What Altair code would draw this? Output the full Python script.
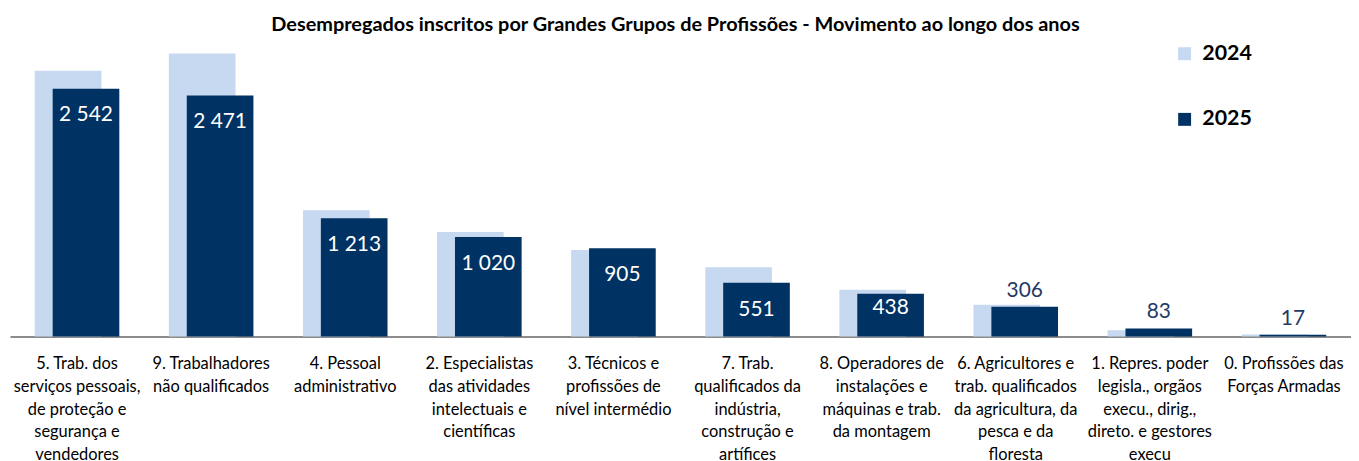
import altair as alt
import pandas as pd

FONT = "Lato, sans-serif"

categories = [
    "5. Trab. dos|serviços pessoais,|de proteção e|segurança e|vendedores",
    "9. Trabalhadores|não qualificados",
    "4. Pessoal|administrativo",
    "2. Especialistas|das atividades|intelectuais e|científicas",
    "3. Técnicos e|profissões de|nível intermédio",
    "7. Trab.|qualificados da|indústria,|construção e|artífices",
    "8. Operadores de|instalações e|máquinas e trab.|da montagem",
    "6. Agricultores e|trab. qualificados|da agricultura, da|pesca e da|floresta",
    "1. Repres. poder|legisla., orgãos|execu., dirig.,|direto. e gestores|execu",
    "0. Profissões das|Forças Armadas",
]
values_2024 = [2726, 2902, 1296, 1072, 888, 711, 480, 325, 65, 20]
values_2025 = [2542, 2471, 1213, 1020, 905, 551, 438, 306, 83, 17]
years = ["2024", "2025"]

rows = []
for c, v in zip(categories, values_2024):
    rows.append({"cat": c, "year": "2024", "value": v})
for c, v in zip(categories, values_2025):
    rows.append({"cat": c, "year": "2025", "value": v, "label": f"{v:,}".replace(",", " ")})
df = pd.DataFrame(rows)

LIGHT = "#C6D9F0"
NAVY = "#003363"

x = alt.X(
    "cat:N",
    sort=categories,
    scale=alt.Scale(paddingInner=0, paddingOuter=0),
    axis=alt.Axis(
        title=None,
        labelExpr="split(datum.label, '|')",
        labelAngle=0,
        labelFont=FONT,
        labelFontSize=16.5,
        labelLineHeight=23,
        labelColor="#000000",
        labelPadding=19,
        labelLimit=400,
        labelOverlap=False,
        ticks=False,
        domainColor="#8C8C8C",
        domainWidth=2,
        grid=False,
    ),
)
y = alt.Y("value:Q", scale=alt.Scale(domain=[0, 3000], nice=False), axis=None)
color = alt.Color(
    "year:N",
    scale=alt.Scale(domain=years, range=[LIGHT, NAVY]),
    legend=alt.Legend(
        title=None,
        orient="none",
        legendX=1170,
        legendY=-1,
        symbolType="square",
        symbolSize=169,
        symbolStrokeWidth=0,
        labelFont=FONT,
        labelFontSize=21.5,
        labelFontWeight="bold",
        labelColor="#000000",
        labelOffset=7,
        rowPadding=43,
        padding=0,
    ),
)

base = alt.Chart(df)
bars24 = base.transform_filter("datum.year == '2024'").mark_bar(width=67, xOffset=-9).encode(x=x, y=y, color=color)
bars25 = base.transform_filter("datum.year == '2025'").mark_bar(width=67, xOffset=9).encode(x=x, y=y, color=color)

lab = base.transform_filter("datum.year == '2025'")
txt_in = lab.transform_filter("datum.value >= 500").mark_text(
    xOffset=9, dy=27, font=FONT, fontSize=21, color="white", baseline="middle"
).encode(x=x, y=y, text="label:N")
txt_mid = lab.transform_filter("datum.value >= 400 && datum.value < 500").mark_text(
    xOffset=9, dy=14, font=FONT, fontSize=21, color="white", baseline="middle"
).encode(x=x, y=y, text="label:N")
txt_out = lab.transform_filter("datum.value < 400").mark_text(
    xOffset=9, dy=-16, font=FONT, fontSize=21, color="#1F3A66", baseline="middle"
).encode(x=x, y=y, text="label:N")

chart = (
    alt.layer(bars24, bars25, txt_in, txt_mid, txt_out)
    .properties(
        width=1348,
        height=294,
        autosize=alt.AutoSizeParams(type="none"),
        padding={"left": 2, "right": 0, "top": 35, "bottom": 128},
        title=alt.TitleParams(
            "Desempregados inscritos por Grandes Grupos de Profissões - Movimento ao longo dos anos",
            font=FONT,
            fontSize=20,
            fontWeight="bold",
            color="#000000",
            anchor="middle",
            offset=8,
            dx=-5,
        ),
    )
    .configure_view(stroke=None)
)

chart.save("out.html", embed_options={"renderer": "svg", "actions": False})
